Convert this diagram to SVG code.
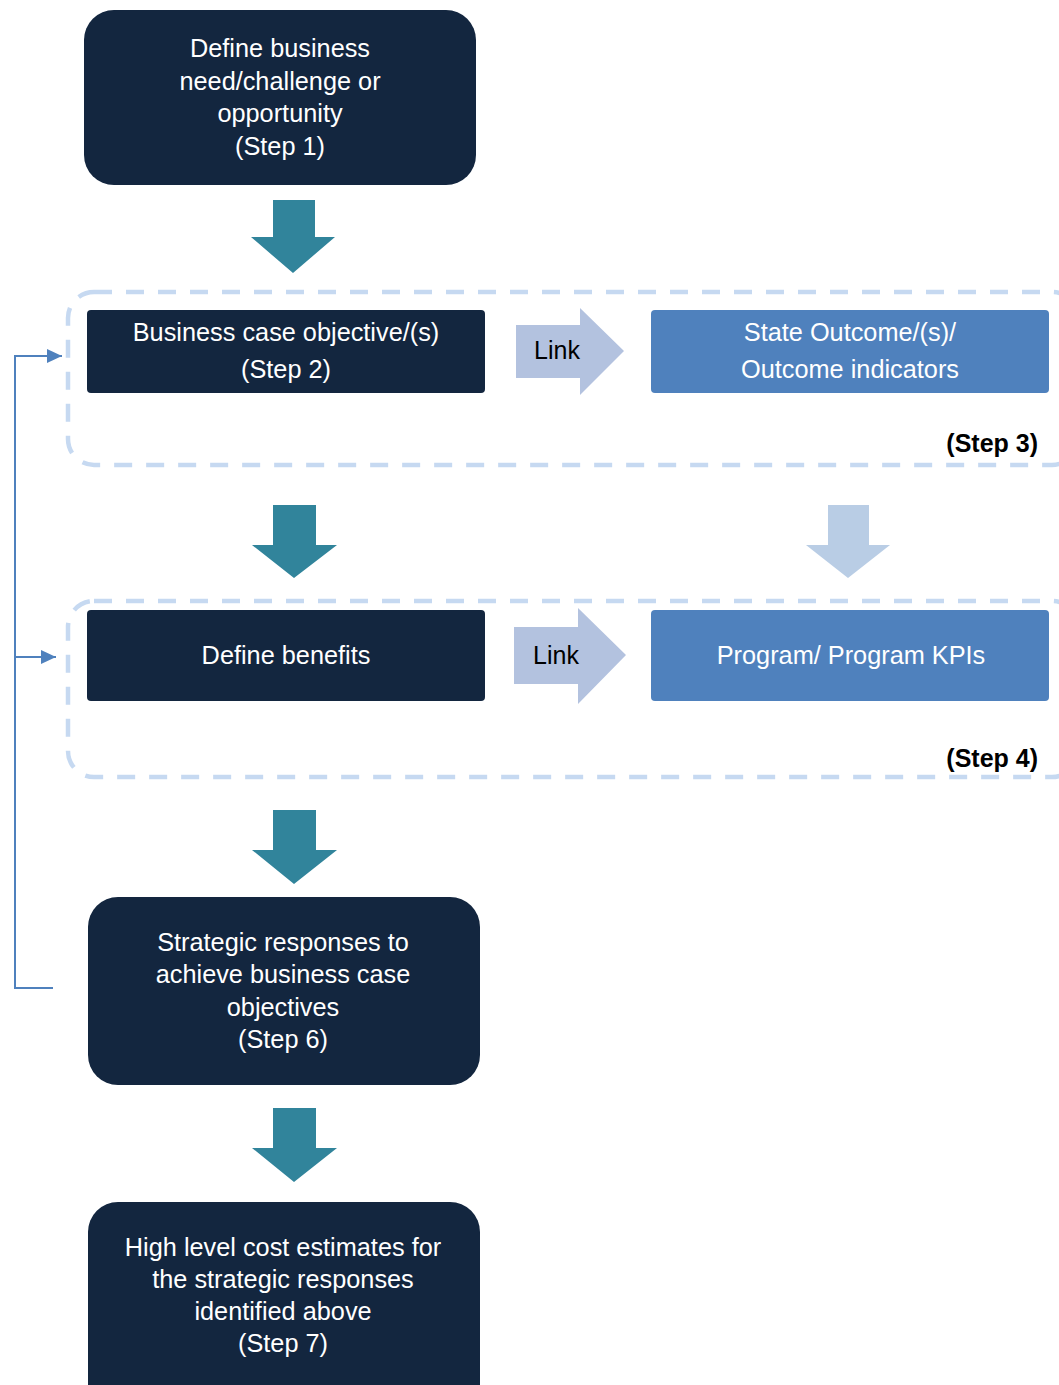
<svg xmlns="http://www.w3.org/2000/svg" width="1059" height="1385" viewBox="0 0 1059 1385">
<defs>
<style>
.navy{fill:#13263f;}
.blue{fill:#4f81bd;}
.t{font-family:"Liberation Sans",Arial,sans-serif;font-size:25.3px;fill:#ffffff;text-anchor:middle;}
.lk{font-family:"Liberation Sans",Arial,sans-serif;font-size:25px;fill:#000000;text-anchor:middle;}
.st{font-family:"Liberation Sans",Arial,sans-serif;font-size:25px;font-weight:bold;fill:#000000;text-anchor:end;}
.dash{fill:none;stroke:#c6d9f1;stroke-width:4.5;stroke-dasharray:18 14;}
.teal{fill:#31849b;}
.pale{fill:#b9cde5;}
.linkar{fill:#b3c2df;}
.conn{fill:none;stroke:#4f81bd;stroke-width:2;}
</style>
<marker id="ah" viewBox="0 0 10 10" refX="10" refY="5" markerWidth="15" markerHeight="14" markerUnits="userSpaceOnUse" orient="auto" preserveAspectRatio="none">
<path d="M0,0 L10,5 L0,10 z" fill="#4f81bd"/>
</marker>
</defs>
<rect width="1059" height="1385" fill="#ffffff"/>

<g id="group-step3">
<rect class="dash" x="68" y="292" width="1010" height="173" rx="26"/>
<text class="st" x="1038" y="452">(Step 3)</text>
</g>
<g id="group-step4">
<rect class="dash" x="68" y="601" width="1010" height="176" rx="26"/>
<text class="st" x="1038" y="767">(Step 4)</text>
</g>

<g id="connectors">
<polygon class="teal" points="273,200 315,200 315,237 335,237 293,273 251,237 273,237"/>
<polygon class="teal" points="273,505 316,505 316,545 337,545 294,578 252,545 273,545"/>
<polygon class="pale" points="828,505 869,505 869,545 890,545 848,578 806,545 828,545"/>
<polygon class="teal" points="273,810 316,810 316,850 337,850 294,884 252,850 273,850"/>
<polygon class="teal" points="273,1108 316,1108 316,1148 337,1148 294,1182 252,1148 273,1148"/>
<g id="link1">
<polygon class="linkar" points="516,325 580,325 580,308 624,351 580,395 580,378 516,378"/>
<text class="lk" x="557" y="359">Link</text>
</g>
<g id="link2">
<polygon class="linkar" points="514,627 578,627 578,608 626,655 578,704 578,684 514,684"/>
<text class="lk" x="556" y="664">Link</text>
</g>
<path class="conn" d="M53,988 L15,988 L15,356 L62,356" marker-end="url(#ah)"/>
<path class="conn" d="M15,657 L56,657" marker-end="url(#ah)"/>
</g>

<g id="step1">
<rect class="navy" x="84" y="10" width="392" height="175" rx="30"/>
<text class="t" x="280" y="57">Define business</text>
<text class="t" x="280" y="90">need/challenge or</text>
<text class="t" x="280" y="122">opportunity</text>
<text class="t" x="280" y="155">(Step 1)</text>
</g>

<g id="step2">
<rect class="navy" x="87" y="310" width="398" height="83" rx="4"/>
<text class="t" x="286" y="341">Business case objective/(s)</text>
<text class="t" x="286" y="378">(Step 2)</text>
</g>

<g id="outcome">
<rect class="blue" x="651" y="310" width="398" height="83" rx="4"/>
<text class="t" x="850" y="341">State Outcome/(s)/</text>
<text class="t" x="850" y="378">Outcome indicators</text>
</g>

<g id="benefits">
<rect class="navy" x="87" y="610" width="398" height="91" rx="4"/>
<text class="t" x="286" y="664">Define benefits</text>
</g>

<g id="program">
<rect class="blue" x="651" y="610" width="398" height="91" rx="4"/>
<text class="t" x="851" y="664">Program/ Program KPIs</text>
</g>

<g id="step6">
<rect class="navy" x="88" y="897" width="392" height="188" rx="30"/>
<text class="t" x="283" y="951">Strategic responses to</text>
<text class="t" x="283" y="983">achieve business case</text>
<text class="t" x="283" y="1016">objectives</text>
<text class="t" x="283" y="1048">(Step 6)</text>
</g>

<g id="step7">
<rect class="navy" x="88" y="1202" width="392" height="215" rx="30"/>
<text class="t" x="283" y="1256">High level cost estimates for</text>
<text class="t" x="283" y="1288">the strategic responses</text>
<text class="t" x="283" y="1320">identified above</text>
<text class="t" x="283" y="1352">(Step 7)</text>
</g>
</svg>
